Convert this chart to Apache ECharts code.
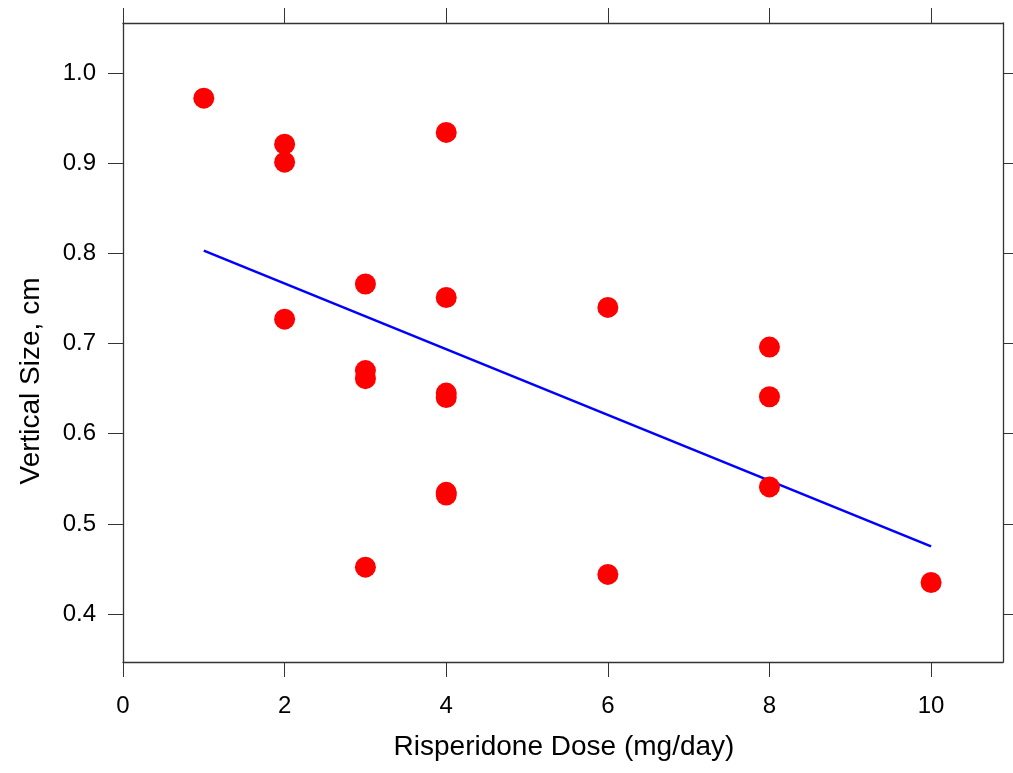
<!DOCTYPE html>
<html>
<head>
<meta charset="utf-8">
<script src="https://cdn.jsdelivr.net/npm/echarts@6/dist/echarts.min.js"></script>
<style>
html,body{margin:0;padding:0;background:#fff;}
#chart{width:1013px;height:773px;}
</style>
</head>
<body>
<div id="chart"></div>
<script>
// Data
const doseValues = [1, 2, 2, 2, 3, 3, 3, 3, 4, 4, 4, 4, 4, 4, 6, 6, 8, 8, 8, 10];
const sizeValues = [0.972, 0.921, 0.901, 0.727, 0.766, 0.670, 0.661, 0.452, 0.934, 0.751, 0.645, 0.640, 0.535, 0.532, 0.740, 0.444, 0.696, 0.641, 0.541, 0.435];
const fitDose = [1, 10];
const fitSize = [0.803, 0.475];
const xTicks = [0, 2, 4, 6, 8, 10];
const yTicks = [0.4, 0.5, 0.6, 0.7, 0.8, 0.9, 1.0];
const xTitle = 'Risperidone Dose (mg/day)';
const yTitle = 'Vertical Size, cm';

const points = doseValues.map((d, i) => [d, sizeValues[i]]);
const fitLine = fitDose.map((d, i) => [d, fitSize[i]]);

const font = 'Liberation Sans, Arial, sans-serif';
const axisColor = '#333';

function mkX(pos, labels) {
  return {
    type: 'value', position: pos, min: 0, max: 10.89,
    axisLine: {show: true, onZero: false, lineStyle: {color: axisColor, width: 1.3}},
    axisTick: {show: true, customValues: xTicks, length: 15, lineStyle: {color: axisColor, width: 1}},
    axisLabel: {show: labels, customValues: xTicks, color: '#000', fontSize: 24, fontFamily: font, margin: 32,
      formatter: v => String(v)},
    splitLine: {show: false}
  };
}
function mkY(pos, labels) {
  return {
    type: 'value', position: pos, min: 0.3469, max: 1.0553,
    axisLine: {show: true, onZero: false, lineStyle: {color: axisColor, width: 1.3}},
    axisTick: {show: true, customValues: yTicks, length: 15, lineStyle: {color: axisColor, width: 1}},
    axisLabel: {show: labels, customValues: yTicks, color: '#000', fontSize: 24, fontFamily: font, margin: 27,
      formatter: v => v.toFixed(1)},
    splitLine: {show: false}
  };
}

const chart = echarts.init(document.getElementById('chart'), null, {renderer: 'canvas'});
chart.setOption({
  backgroundColor: '#fff',
  animation: false,
  grid: {left: 123, right: 10, top: 23, bottom: 111, containLabel: false},
  xAxis: [mkX('bottom', true), mkX('top', false)],
  yAxis: [mkY('left', true), mkY('right', false)],
  graphic: [
    {type: 'text', x: 564, y: 747,
      style: {text: xTitle, fontSize: 28, fontFamily: font, fill: '#000', align: 'center', verticalAlign: 'middle'}},
    {type: 'text', x: 31, y: 381, rotation: Math.PI / 2,
      style: {text: yTitle, fontSize: 28, fontFamily: font, fill: '#000', align: 'center', verticalAlign: 'middle'}}
  ],
  series: [
    {type: 'line', xAxisIndex: 0, yAxisIndex: 0, data: fitLine, symbol: 'none',
      lineStyle: {color: '#0000ff', width: 2.5}, z: 2},
    {type: 'scatter', xAxisIndex: 0, yAxisIndex: 0, data: points, symbol: 'circle', symbolSize: 21,
      itemStyle: {color: '#ff0000', opacity: 1}, z: 3}
  ]
});
</script>
</body>
</html>
